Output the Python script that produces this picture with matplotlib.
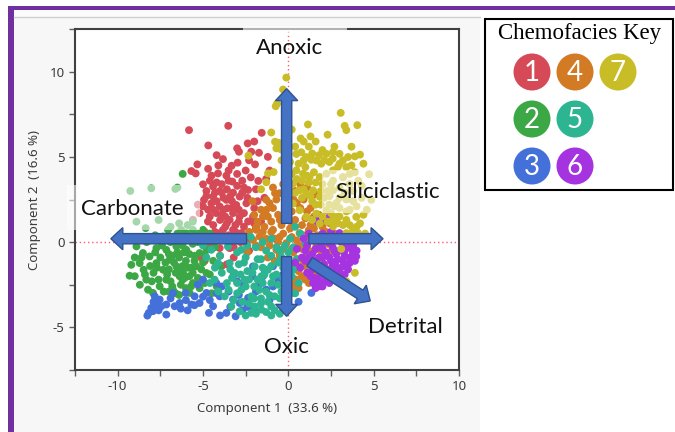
import matplotlib
matplotlib.use("Agg")
import matplotlib.pyplot as plt
from matplotlib.patches import Rectangle, Circle, FancyArrow

plt.rcParams["axes.unicode_minus"] = False

# ---- chemofacies scores (Component 1, Component 2) ----
facies1 = [(-5.82, 6.57), (-3.52, 6.82), (-1.56, 6.41), (-4.69, 5.67), (-2.38, 5.79), (-2.89, 5.30),
           (-2.17, 5.30), (-1.72, 5.24), (-3.83, 4.87), (-3.32, 4.48), (-2.97, 4.66), (-1.95, 4.56),
           (-5.33, 4.56), (-5.68, 4.17), (-5.43, 4.03), (-4.12, 4.03), (-3.63, 3.90), (-3.28, 3.55),
           (-1.76, 3.59), (-5.0, 3.39), (-4.41, 3.26), (-4.02, 3.0), (-3.24, 2.9), (-2.85, 2.67),
           (-4.94, 2.48), (-4.51, 2.28), (-4.02, 2.09), (-3.57, 1.99), (-3.05, 2.18), (-2.46, 2.28),
           (-4.22, 1.7), (-3.44, 1.31), (-2.85, 1.5), (-4.71, 1.21), (-2.36, 1.21), (-3.83, 0.72),
           (-3.24, 0.72), (-2.75, 0.53), (-4.8, -0.35), (-4.02, -0.35), (-3.44, -0.35), (-5.3, 2.2),
           (-2.36, 3.06), (-2.07, 1.5), (-5.2, 1.7), (-5.59, 1.31), (-4.41, 2.67), (-3.63, 2.48),
           (-3.24, 1.7), (-4.02, 0.53), (-4.41, 0.14), (-3.44, 0.14), (-2.46, -0.06), (-4.6, 3.6),
           (-3.9, 3.4), (-3.6, 3.1), (-4.3, 2.9), (-3.8, 2.6), (-3.3, 2.4), (-4.7, 1.9), (-3.9, 1.6),
           (-3.6, 1.1), (-3.1, 1.0), (-4.4, 1.0), (-4.9, 0.6), (-3.0, 0.3), (-2.6, 0.9), (-1.9, 0.8),
           (-1.6, 1.2), (-2.0, 2.0), (-1.4, 1.8), (-2.7, 3.6), (-2.2, 3.8), (-3.0, 4.0), (-4.7, 4.3),
           (-1.1, 4.2), (-4.0, -0.8), (-3.6, -1.3), (-3.2, -0.9), (-2.3, -0.5), (-5.1, -0.9),
           (-5.5, 0.4), (-3.8, 1.9), (-4.2, 2.4), (-2.9, 1.9), (-3.5, 0.4), (-2.2, 0.2), (-2.7, 2.9),
           (-4.8, 3.0), (-1.9, 3.1), (-2.5, 4.2), (-1.4, 2.6), (-4.9, -1.1), (-3.9, -1.4),
           (-4.5, 3.9), (-4.2, 3.5), (-3.5, 3.6), (-3.0, 3.3), (-2.6, 3.2), (-4.8, 2.7), (-4.4, 1.9),
           (-4.0, 1.3), (-3.7, 1.5), (-3.3, 2.0), (-2.9, 1.2), (-2.6, 1.7), (-2.4, 2.6), (-3.9, 2.9),
           (-3.4, 2.7), (-4.6, 1.5), (-5.0, 2.1), (-4.3, 0.6), (-3.7, 0.9), (-3.1, 0.6), (-2.8, 0.0),
           (-3.8, 0.2), (-4.6, -0.1), (-3.2, -0.3), (-2.0, 1.1), (-1.8, 2.4), (-2.3, 4.8), (-3.5, 4.2),
           (-4.1, 4.5), (-1.3, 3.7), (-2.0, 5.9), (-3.0, 5.5), (-4.2, 5.1), (-1.2, 5.0)]

facies2 = [(-6.19, 4.0), (-8.9, -0.25), (-8.52, -0.64), (-9.2, -1.33), (-9.3, -1.97), (-9.0, -2.0),
           (-8.32, -2.2), (-8.13, -0.84), (-7.73, -1.23), (-7.34, -1.62), (-6.95, -1.03), (-6.56, -1.42),
           (-6.17, -1.81), (-6.37, -2.0), (-6.07, -2.1), (-7.15, -2.2), (-7.54, -2.59), (-8.22, -2.79),
           (-7.93, -2.98), (-6.76, -2.79), (-5.78, -2.98), (-5.39, -1.42), (-5.2, -0.64), (-5.98, -0.45),
           (-6.56, -0.25), (-7.15, -0.45), (-7.73, -0.35), (-5.98, 0.53), (-5.2, 0.53), (-5.59, 0.72),
           (-6.27, 0.72), (-7.34, 0.33), (-5.59, -2.4), (-4.8, -1.81), (-8.71, -1.23), (-8.48, -1.62),
           (-5.0, 0.72), (-6.8, -0.8), (-6.4, -0.9), (-6.0, -1.1), (-5.7, -1.5), (-6.2, -1.4),
           (-6.6, -1.8), (-7.0, -1.6), (-7.5, -0.9), (-7.9, -1.8), (-8.0, -2.3), (-6.9, -2.3),
           (-6.3, -2.5), (-5.8, -2.0), (-5.3, -2.1), (-5.0, -1.2), (-4.7, -0.4), (-4.4, -1.1),
           (-5.6, -0.1), (-6.2, 0.1), (-6.9, 0.0), (-7.5, 0.1), (-8.3, 0.0), (-5.4, 0.2), (-4.6, 0.5),
           (-6.5, -0.6), (-7.2, -1.2), (-5.5, -0.8), (-6.0, -2.7), (-6.6, -3.0), (-5.2, -2.7),
           (-4.9, -2.4), (-4.2, -2.6), (-4.5, -3.0), (-7.3, -2.9), (-9.26, 3.0), (-8.03, 3.16),
           (-6.62, 3.12), (-6.5, 3.2), (-8.36, 0.82), (-7.05, 0.72), (-7.6, 1.3), (-6.4, 1.1),
           (-5.9, 1.0), (-8.9, 1.2), (-6.9, 0.9), (-5.6, 1.2),
           (-7.8, -0.6), (-7.4, -0.2), (-7.0, -0.7), (-6.7, -1.2), (-6.3, -1.6), (-5.9, -1.5),
           (-5.5, -1.1), (-5.8, -0.7), (-6.2, -0.2), (-6.7, 0.3), (-7.1, -1.9), (-7.6, -2.2),
           (-8.4, -1.9), (-8.7, -2.5), (-8.6, -0.9), (-9.0, -0.9), (-6.8, -2.6), (-6.2, -2.2),
           (-5.6, -1.8), (-5.1, -1.6), (-4.9, -0.7), (-5.3, 0.0), (-6.0, 0.3), (-6.5, 0.5),
           (-7.8, 0.4), (-8.1, -1.4), (-7.7, -1.5), (-6.1, -0.6), (-5.7, -2.6), (-6.4, -3.1),
           (-7.0, -2.9), (-4.6, -1.9), (-4.0, -1.4), (-4.3, -0.3)]

facies3 = [(-8.26, -4.31), (-8.18, -4.15), (-7.93, -4.05), (-7.83, -3.18), (-7.54, -3.37), (-7.73, -3.76),
           (-7.44, -3.76), (-8.03, -3.86), (-7.15, -3.66), (-6.76, -2.98), (-6.66, -3.76), (-6.02, -2.98),
           (-5.49, -3.18), (-5.2, -3.57), (-4.65, -4.15), (-4.41, -3.76), (-4.8, -2.98), (-4.02, -3.18),
           (-3.63, -4.15), (-3.09, -4.35), (-3.24, -3.37), (-2.85, -3.57), (-2.36, -3.27), (-2.07, -1.42),
           (-1.48, -2.0), (-1.29, -2.79), (1.35, -2.98), (-5.0, -2.2), (-4.22, -2.4), (-0.9, -1.42),
           (-5.68, -3.66), (-6.37, -3.57), (-7.15, -4.25), (-0.5, -0.64), (-3.9, -2.6), (-3.5, -2.9),
           (-2.6, -2.5), (-1.9, -2.9), (-2.0, -4.0), (-1.1, -3.4), (-0.6, -2.2), (-0.2, -1.3),
           (0.3, -2.4), (-3.2, -1.9), (-2.7, -4.0), (-5.9, -4.0), (-4.0, -4.3),
           (-7.9, -3.5), (-7.6, -4.0), (-6.9, -3.3), (-6.3, -3.9), (-5.5, -3.7), (-5.0, -3.2),
           (-4.6, -3.4), (-4.2, -3.0), (-3.4, -3.8), (-2.9, -3.1), (-2.4, -3.8), (-1.7, -2.5),
           (-1.4, -1.6), (-0.9, -2.6), (-0.3, -1.9), (0.6, -3.5), (-5.3, -2.5), (-6.0, -3.4),
           (-3.0, -2.3), (-2.1, -2.0)]

facies4 = [(-0.51, 2.87), (-1.1, 2.28), (-1.49, 1.5), (-1.87, 0.91), (-1.68, 0.33), (-2.07, 0.13),
           (-0.9, 0.72), (0.27, 1.11), (0.66, 0.53), (-0.12, -0.06), (-0.7, -0.45), (1.05, -0.84),
           (0.66, -1.43), (0.47, -2.2), (0.27, -2.98), (1.25, 0.13), (1.64, -0.26), (2.03, 0.33),
           (2.42, 1.11), (-1.29, 1.89), (-0.78, 2.87), (-1.29, 2.48), (-1.88, 0.72), (0.08, -2.59),
           (-0.3, 3.4), (0.4, 3.0), (0.9, 2.5), (1.3, 2.0), (1.8, 1.6), (-0.6, 1.6), (-0.2, 2.2),
           (0.2, 1.8), (0.5, 2.3), (1.0, 1.4), (1.5, 0.8), (-0.4, 1.0), (-1.0, 1.2), (-1.4, 0.9),
           (-0.8, 0.2), (-0.3, 0.5), (0.1, 0.8), (0.5, 0.1), (0.9, 0.4), (1.9, -0.5), (2.3, -0.1),
           (0.8, -0.4), (0.3, -0.6), (0.0, -1.0), (0.5, -1.0), (1.0, -1.4), (0.2, -1.6), (0.8, -2.0),
           (0.3, -2.2), (0.6, -2.7), (1.2, -2.4), (-0.6, 0.0), (-1.3, 0.2), (-1.6, -0.3), (-2.3, 0.6),
           (-2.4, -0.6), (-1.1, -0.2), (1.3, 1.0), (2.0, 0.9), (2.7, 0.5), (-0.9, 2.0), (-1.8, 1.2),
           (0.0, 3.0), (1.1, 3.2), (1.6, 2.8), (-2.1, 2.4), (-0.5, -0.8), (1.4, -1.1), (2.0, -1.2),
           (1.6, -1.8),
           (-0.7, 2.5), (-0.2, 2.7), (0.3, 2.5), (0.7, 2.0), (1.1, 1.8), (1.5, 1.5), (-0.5, 1.3),
           (0.0, 1.5), (0.4, 1.3), (0.8, 1.0), (1.2, 0.7), (1.7, 0.4), (-1.0, 0.6), (-0.5, 0.3),
           (0.2, 0.3), (0.6, -0.2), (1.1, -0.4), (1.5, -0.5), (0.2, -0.4), (-0.3, -0.4), (0.4, -1.3),
           (0.9, -1.1), (0.6, -1.7), (1.0, -2.2), (0.4, -2.6), (-1.2, 1.5), (-1.6, 1.9), (-2.0, 1.6),
           (-1.5, 0.6), (-1.9, -0.2), (-1.2, -0.9), (-0.8, -1.1), (2.4, -0.6), (2.6, 0.1), (2.2, 0.6),
           (1.6, 1.3), (-0.9, 3.2), (0.7, 3.4)]

facies5 = [(-3.44, -1.23), (-3.15, -1.81), (-2.56, -2.2), (-2.75, -2.79), (-2.17, -3.18), (-1.97, -3.77),
           (-1.58, -2.0), (-1.2, -1.62), (-1.0, -2.4), (-0.8, -3.18), (-1.0, -3.77), (-1.58, -3.96),
           (-2.17, -4.15), (-2.85, -4.06), (-4.12, -1.23), (-4.32, -2.2), (-3.73, -3.18), (-3.34, -3.77),
           (-2.5, -0.9), (-1.97, -1.43), (-2.75, -0.45), (-3.54, -0.26), (-4.51, -0.45), (-0.5, -0.5),
           (0.3, -0.3), (-1.0, 0.2), (0.5, -1.0), (-0.3, -1.5), (0.2, -2.0), (-0.6, -2.5), (0.4, -3.0),
           (-0.2, -3.5), (-0.8, -4.0), (-0.5, -4.2), (-1.3, -4.1), (-1.6, -3.3), (-2.0, -2.6),
           (-2.4, -1.7), (-2.9, -1.3), (-1.6, -1.0), (-1.0, -0.8), (-0.6, -1.2), (-1.3, -2.9),
           (-0.7, -1.9), (-1.8, -2.2), (-2.3, -3.6), (-3.0, -3.0), (-2.7, -3.5), (-3.6, -2.4),
           (-3.9, -1.8), (-4.0, -0.8), (-3.0, -0.6), (-1.9, -0.3), (-1.3, -0.5), (0.1, 0.2), (0.7, 0.5),
           (0.4, 0.9), (-0.2, -0.2), (1.0, -0.1), (-4.8, -0.9), (-5.0, -0.2), (-2.2, 0.3), (-0.1, -2.7),
           (-1.1, -3.1), (-2.6, -1.2), (-3.3, -2.1), (-1.5, -1.5),
           (-1.8, -1.0), (-1.4, -1.9), (-1.0, -1.4), (-0.4, -0.9), (-0.1, -1.2), (0.3, -1.6),
           (-0.3, -2.1), (-0.9, -2.0), (-1.5, -2.4), (-2.1, -1.8), (-2.5, -2.6), (-2.0, -3.3),
           (-1.6, -3.6), (-1.2, -3.5), (-0.5, -3.3), (-0.3, -3.9), (-1.0, -4.3), (-1.9, -4.2),
           (-2.5, -4.3), (-3.2, -3.4), (-3.5, -2.8), (-3.0, -2.4), (-2.8, -1.9), (-3.4, -1.6),
           (-4.3, -1.5), (-4.6, -2.4), (-4.1, -2.9), (-0.7, -0.3), (0.0, -0.6), (-1.5, 0.0),
           (-2.4, -0.2), (0.6, -2.4), (-0.4, -2.9), (-1.7, -2.8), (-2.3, -2.2)]

facies6 = [(1.64, 1.5), (2.42, 1.5), (3.0, 0.53), (3.59, 0.14), (3.79, -0.64), (3.98, -0.84),
           (3.59, -1.23), (3.2, -1.42), (2.62, -1.62), (2.23, -2.0), (1.64, -2.2), (1.45, -2.4),
           (1.84, -2.59), (1.0, -0.5), (1.4, -0.7), (1.8, -0.9), (2.2, -0.6), (2.6, -0.3), (3.0, -0.5),
           (3.3, -0.8), (2.9, -1.0), (2.5, -1.1), (2.1, -1.3), (1.7, -1.5), (1.3, -1.3), (2.4, -1.6),
           (2.8, -1.4), (3.4, -0.2), (3.1, 0.0), (2.7, 0.2), (2.3, 0.0), (1.9, -0.2), (1.5, 0.1),
           (0.8, -0.9), (1.1, -1.8), (1.9, -1.9), (2.6, -2.1), (2.0, -2.6), (1.6, -2.7), (3.7, -0.4),
           (4.0, -0.5), (3.9, -1.1), (3.5, -1.6), (0.5, -0.4), (0.9, 0.2), (0.4, -1.2), (1.2, 0.5),
           (2.0, 0.5), (2.5, 0.6), (1.7, 1.2), (2.2, 1.3), (3.3, -1.9), (2.9, -1.8),
           (1.2, -0.9), (1.6, -1.1), (2.0, -0.9), (2.4, -0.9), (2.8, -0.7), (3.2, -1.1), (3.6, -0.9),
           (2.6, -1.3), (2.2, -1.6), (1.8, -1.7), (1.4, -1.6), (1.5, -2.1), (2.1, -2.3), (2.4, -2.4),
           (3.0, -1.6), (3.4, -1.3), (2.7, -0.5), (3.3, -0.5), (2.0, -0.4), (1.6, -0.4), (1.1, -0.2),
           (2.5, -0.1), (2.9, 0.3), (3.5, 0.4), (3.8, -0.2), (1.3, -2.0), (1.8, -2.3), (2.8, -2.0),
           (0.7, -1.5), (1.0, -1.1)]

facies7 = [(-0.12, 9.65), (-0.31, 8.95), (-0.74, 7.97), (-0.66, 8.13), (1.15, 6.9), (3.07, 7.58),
           (3.3, 6.82), (3.4, 6.57), (4.04, 6.86), (0.72, 6.08), (-1.0, 6.43), (-0.78, 5.89),
           (-0.59, 5.83), (-0.7, 5.5), (-0.43, 5.44), (-2.34, 5.07), (-1.19, 4.03), (-0.86, 4.11),
           (-1.29, 3.51), (0.47, 5.17), (0.76, 5.27), (1.05, 4.99), (1.35, 4.83), (1.64, 4.79),
           (1.93, 4.60), (2.23, 5.18), (2.62, 5.28), (3.0, 5.18), (3.5, 4.99), (3.9, 5.03), (4.2, 5.13),
           (3.2, 4.8), (0.47, 4.21), (0.86, 4.01), (1.25, 3.82), (1.84, 3.82), (2.23, 4.01),
           (2.62, 4.21), (3.2, 3.82), (3.6, 4.0), (0.27, 3.43), (0.66, 3.04), (1.05, 2.84), (1.45, 3.04),
           (1.84, 2.65), (2.62, 3.04), (3.0, 3.2), (0.27, 2.26), (0.66, 1.87), (1.05, 1.48), (1.64, 1.67),
           (2.23, 1.87), (2.82, 1.48), (3.4, 1.3), (3.98, 1.48), (3.79, 0.72), (4.08, 0.53), (3.4, 0.53),
           (2.62, 0.92), (1.84, 1.09), (2.62, 3.6), (3.2, 3.8), (3.59, 3.4), (3.79, 3.0), (3.4, 2.5),
           (2.82, 2.3), (2.42, 2.7), (4.73, 3.98), (4.86, 2.48), (1.2, 5.6), (2.0, 5.4), (2.4, 4.7),
           (2.9, 4.4), (3.7, 4.5), (4.1, 3.6), (4.3, 2.6), (4.0, 2.1), (3.6, 1.9), (3.0, 2.0), (2.4, 2.2),
           (1.9, 2.2), (1.4, 2.4), (0.8, 2.6), (0.5, 3.7), (1.0, 4.4), (1.5, 4.1), (2.0, 3.4), (2.5, 3.4),
           (1.2, 3.5), (0.9, 5.9), (2.3, 6.3), (1.6, 5.9), (3.7, 5.6), (4.4, 4.6), (4.2, 1.1), (3.2, 1.0),
           (2.6, 1.3), (4.5, 0.5), (4.6, 1.9), (3.1, -0.4), (3.9, -1.8), (3.4, -2.3), (-0.4, 4.8),
           (0.2, 6.6), (-1.6, 3.1),
           (0.6, 4.6), (0.9, 4.8), (1.4, 5.2), (1.8, 5.1), (2.1, 4.8), (2.6, 4.9), (3.0, 4.6),
           (3.4, 4.4), (0.8, 3.6), (1.1, 3.9), (1.6, 3.5), (1.9, 3.0), (2.3, 3.0), (0.4, 2.9),
           (0.9, 3.1), (1.3, 2.7), (1.6, 2.2), (2.1, 2.6), (2.0, 1.5), (2.5, 1.7), (3.0, 1.5),
           (3.4, 1.8), (3.8, 2.4), (3.3, 2.9), (3.0, 2.6), (2.7, 2.1), (1.4, 1.3), (2.3, 1.2),
           (2.9, 1.1), (3.6, 1.0), (3.7, 0.3), (4.0, 0.9), (3.3, 0.2), (4.3, 3.3), (3.9, 4.1),
           (2.7, 5.6), (1.3, 6.2), (0.4, 5.6), (0.1, 4.7), (0.2, 4.0), (-0.2, 5.8), (4.4, 1.6)]

facies_labels = ["1", "2", "3", "4", "5", "6", "7"]
facies_colors = ["#d64a58", "#3ca845", "#4470da", "#d27a24", "#2cb590", "#a633e0", "#c9bd27"]
facies_data = [facies1, facies2, facies3, facies4, facies5, facies6, facies7]

# process-direction arrows: (label, start, end)
arrow_names = ["Anoxic", "Oxic", "Carbonate", "Siliciclastic", "Detrital"]
arrow_starts = [(-0.1, 1.1), (-0.1, -0.85), (-2.45, 0.2), (1.2, 0.2), (1.25, -1.15)]
arrow_ends = [(-0.1, 9.0), (-0.1, -4.35), (-10.4, 0.2), (5.55, 0.2), (4.8, -3.45)]

W, H = 675, 432
fig = plt.figure(figsize=(W / 100, H / 100), dpi=100)
fig.patch.set_facecolor("white")

# page furniture drawn in pixel coordinates
bg = fig.add_axes([0, 0, 1, 1], zorder=0)
bg.set_xlim(0, W)
bg.set_ylim(H, 0)
bg.axis("off")
bg.add_patch(Rectangle((14, 9), 466, H - 9, facecolor="#fbfbfb", edgecolor="none"))
bg.add_patch(Rectangle((14, 17), 466, H - 17, facecolor="#f7f7f7", edgecolor="none"))
bg.plot([14, 480], [16.7, 16.7], color="#cfcfcf", lw=1)
bg.add_patch(Rectangle((8, 6), W - 8, 3.5, facecolor="#7030a0", edgecolor="none"))
bg.add_patch(Rectangle((8, 6), 6, H - 6, facecolor="#7030a0", edgecolor="none"))

# chemofacies key
bg.add_patch(Rectangle((485, 18.5), 188, 171.5, fill=False, edgecolor="black", lw=1.5))
bg.text(580, 33, "Chemofacies Key", ha="center", va="center", fontsize=16.5,
        family="Liberation Serif", color="black")
key_pos = {"1": (532, 72), "4": (575, 72), "7": (618, 72),
           "2": (532, 119), "5": (575, 119),
           "3": (532, 166), "6": (575, 166)}
for lab, col in zip(facies_labels, facies_colors):
    cx, cy = key_pos[lab]
    bg.add_patch(Circle((cx, cy), 18.5, facecolor=col, edgecolor="none"))
    bg.text(cx, cy + 1, lab, ha="center", va="center", fontsize=20, family="Lato", color="white")

# score plot
ax = fig.add_axes([75 / W, (H - 370) / H, 384 / W, 341 / H], zorder=1)
ax.set_facecolor("white")
ax.set_xlim(-12.5, 10)
ax.set_ylim(-7.5, 12.5)

ax.axhline(0, color="#ff5a6e", ls=(0, (1, 2)), lw=1, zorder=1)
ax.axvline(0, color="#ff5a6e", ls=(0, (1, 2)), lw=1, zorder=1)

for pts, col in zip(facies_data, facies_colors):
    xs = [p[0] for p in pts]
    ys = [p[1] for p in pts]
    ax.scatter(xs, ys, s=32, color=col, edgecolors="none", zorder=2)

# translucent label panels
ax.add_patch(Rectangle((-12.98, 0.72), 7.8, 2.64, facecolor="white", alpha=0.55,
                       edgecolor="none", zorder=3, clip_on=False))
ax.add_patch(Rectangle((1.95, 1.72), 7.2, 2.5, facecolor="white", alpha=0.55,
                       edgecolor="none", zorder=3, clip_on=False))
ax.add_patch(Rectangle((-2.68, 12.2), 6.1, 0.45, facecolor="white", alpha=0.6,
                       edgecolor="none", zorder=3, clip_on=False))

for s, e in zip(arrow_starts, arrow_ends):
    ax.add_patch(FancyArrow(s[0], s[1], e[0] - s[0], e[1] - s[1], width=0.6,
                            head_width=1.3, head_length=0.7, length_includes_head=True,
                            facecolor="#4472c4", edgecolor="#2f528f", lw=1, zorder=5))

label_font = dict(family="Lato", fontsize=16, color="#111111", zorder=6)
ax.text(0.08, 11.36, "Anoxic", ha="center", va="center", **label_font)
ax.text(2.78, 2.94, "Siliciclastic", ha="left", va="center", **label_font)
ax.text(-12.16, 1.95, "Carbonate", ha="left", va="center", **label_font)
ax.text(4.64, -5.0, "Detrital", ha="left", va="center", **label_font)
ax.text(-0.13, -6.18, "Oxic", ha="center", va="center", **label_font)

ax.set_xticks([-10, -5, 0, 5, 10])
ax.set_xticks([-12.5, -7.5, -2.5, 2.5, 7.5], minor=True)
ax.set_yticks([-5, 0, 5, 10])
ax.set_yticks([-7.5, -2.5, 2.5, 7.5, 12.5], minor=True)
ax.tick_params(which="both", direction="out", length=4, width=1, color="#606060",
               labelsize=9.5, labelcolor="#3c3c3c")
for lab in ax.get_xticklabels() + ax.get_yticklabels():
    lab.set_family("Noto Sans")
ax.xaxis.get_major_ticks()[2].tick1line.set_color("#ff3040")
ax.yaxis.get_major_ticks()[1].tick1line.set_color("#ff3040")

for sp in ax.spines.values():
    sp.set_color("#404040")
    sp.set_linewidth(1.5)

ax.set_xlabel("Component 1  (33.6 %)", fontsize=9.5, family="Noto Sans", color="#3c3c3c", labelpad=6)
ax.set_ylabel("Component 2  (16.6 %)", fontsize=9.5, family="Noto Sans", color="#3c3c3c", labelpad=6)

fig.savefig("out.png", dpi=100)
